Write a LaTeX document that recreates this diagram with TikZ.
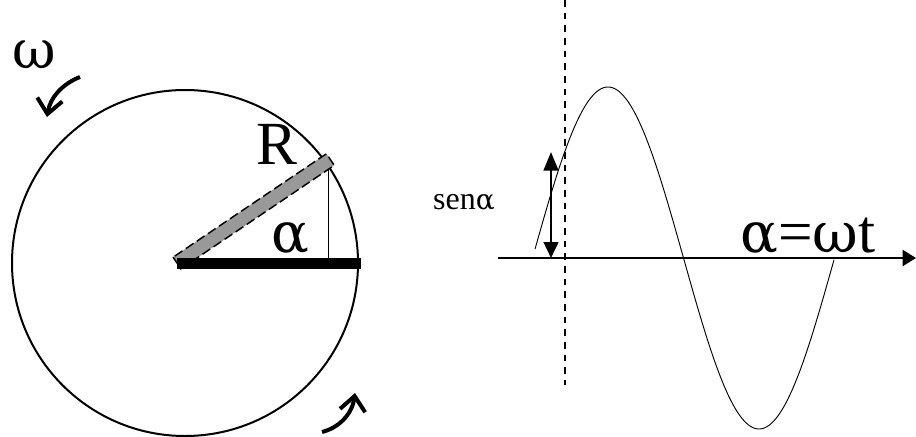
\documentclass[tikz,border=0pt]{standalone}
\usepackage{fontspec}
\setmainfont{Liberation Serif}
\newfontfamily\grk{DejaVu Serif}
\usetikzlibrary{arrows.meta}

\tikzset{
  bigtxt/.style={font=\fontsize{46}{50}\selectfont, inner sep=0pt},
  smalltxt/.style={font=\fontsize{24}{26}\selectfont, inner sep=0pt},
  turnarrow/.style={line width=3pt, -{Straight Barb[length=11pt,width=19pt]}},
  radiusbar/.style={fill=black!40, line width=1.1pt, dash pattern=on 7pt off 3pt},
}

\begin{document}
\begin{tikzpicture}[x=0.75pt,y=-0.75pt]
\useasboundingbox (0,0) rectangle (916,436);

% rotating circle
\coordinate (O) at (185,263);
\coordinate (P0) at (177,263);
\coordinate (P) at (328.7,160.7);
\coordinate (F) at (328.7,263);
\coordinate (B0) at (177,263.5);
\coordinate (B1) at (361,263.5);
\draw[line width=1.5pt] (O) circle[radius=173];
\draw[line width=0.8pt] (P) -- (F);
\begin{scope}[shift={(P0)},rotate=34]
\filldraw[radiusbar] (0,-7) rectangle (185,7);
\end{scope}
\draw[line width=8pt] (B0) -- (B1);

\node[bigtxt, anchor=base] (R) at (277,164) {R};
\node[bigtxt, anchor=base] (ang) at (290,252) {\fontsize{42}{46}\grk α};
\node[bigtxt, anchor=base] (omega) at (34,68) {\fontsize{40}{44}\grk ω};

\coordinate (w0) at (80,77);
\coordinate (w1) at (47,117);
\draw[turnarrow] (w0) .. controls (62,84) and (50,98) .. (w1);
\coordinate (v0) at (322,432);
\coordinate (v1) at (355,393);
\draw[turnarrow] (v0) .. controls (338,428) and (352,415) .. (v1);

% sine curve
\coordinate (axL) at (498,258);
\coordinate (axR) at (916,258);
\draw[line width=1.5pt, -{Triangle[length=10pt,width=12pt]}] (axL) -- (axR);
\draw[line width=0.7pt] plot[domain=535:834, samples=200, smooth] (\x,{258-171*sin((\x-532.5)/302*360)});

\coordinate (d0) at (565,0);
\coordinate (d1) at (565,385);
\draw[line width=2.2pt, dash pattern=on 5pt off 4.5pt] (d0) -- (d1);

\coordinate (s0) at (551,152);
\coordinate (s1) at (551,258);
\draw[line width=2pt, {Triangle[length=14pt,width=11pt]}-{Triangle[length=12pt,width=11pt]}] (s0) -- (s1);

\node[smalltxt, anchor=base] (sen) at (464,209) {sen{\grk\fontsize{21}{24}\selectfont α}};
\node[bigtxt, anchor=base] (law) at (808,252) {{\grk\fontsize{42}{46}\selectfont α}={\grk\fontsize{42}{46}\selectfont ω}t};
\end{tikzpicture}
\end{document}
